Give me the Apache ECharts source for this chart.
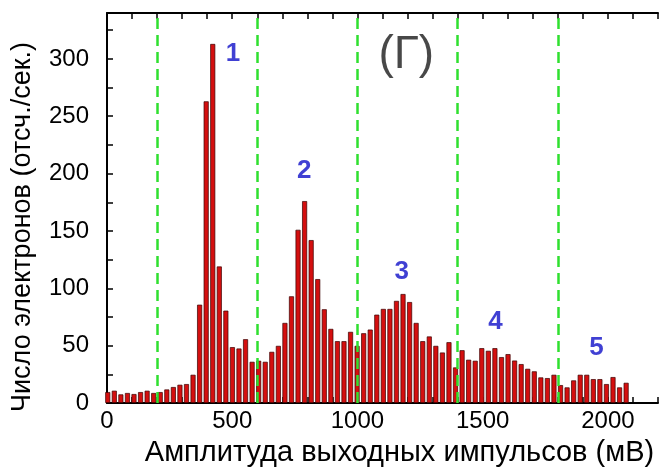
<!DOCTYPE html>
<html>
<head>
<meta charset="utf-8">
<script src="https://cdn.jsdelivr.net/npm/echarts@6/dist/echarts.min.js"></script>
<style>
  html, body { margin: 0; padding: 0; background: #fff; }
  #chart { width: 661px; height: 472px; }
</style>
</head>
<body>
<div id="chart"></div>
<script>
// Pulse-height histogram: counts per amplitude channel
const binWidth = 26.2;     // mV per channel
const firstBinCentre = 3;  // mV
const counts = [
  9.5, 10.7, 7.5, 8.7, 7.8, 9.5, 10.7, 8.7, 9.5, 11.8,
  13.9, 15.9, 16.5, 24.6, 85.7, 263, 313, 119, 80.5, 48.7,
  47.5, 55.6, 35.9, 36.8, 35.9, 44.6, 49.8, 69.8, 93, 151,
  176, 142, 108, 81.7, 64.6, 53.9, 53.9, 62, 49.8, 60.8,
  64, 77, 82, 82, 89, 95, 88, 69.8, 53.9, 58,
  49.8, 44, 53, 31, 46, 37.7, 36.8, 47.8, 45.5, 47.8,
  40, 42.6, 37, 33.9, 29.8, 27.6, 22.3, 21.7, 24.6, 15.6,
  13.6, 19.7, 24.6, 24.6, 20.8, 20.8, 16.5, 22.6, 13.6, 17.6
];

// Boundaries between peak regions (mV)
const regionBounds = [200, 600, 1000, 1400, 1800];

// Peak numbers and their anchor points [mV, counts]
const peakNames = ['1', '2', '3', '4', '5'];
const peakAnchors = [[503, 304], [787, 202], [1177, 114], [1551, 71], [1954, 48]];

// Panel letter
const panelName = '(Г)';
const panelAnchor = [1195, 303];

const xTickLabels = [0, 500, 1000, 1500, 2000];
const yTickLabels = [0, 50, 100, 150, 200, 250, 300];

const FONT = '"Liberation Sans", Arial, sans-serif';

const histData = counts.map((c, i) => [firstBinCentre + i * binWidth, c]);

const axisLine = { show: true, lineStyle: { color: '#000', width: 2 } };
const axisTick = { show: true, inside: true, length: 6, lineStyle: { color: '#000', width: 1.5 } };

const chart = echarts.init(document.getElementById('chart'), null, { renderer: 'canvas' });

chart.setOption({
  backgroundColor: '#fff',
  animation: false,
  grid: { left: 107, top: 13, width: 564, height: 391, containLabel: false },
  xAxis: [
    {
      type: 'value', min: 0, max: 2200, interval: 100, position: 'bottom',
      axisLine, axisTick,
      splitLine: { show: false },
      axisLabel: {
        color: '#000', fontSize: 24, fontFamily: FONT, margin: 6,
        formatter: v => xTickLabels.includes(v) ? String(v) : ''
      },
      name: 'Амплитуда выходных импульсов (мВ)',
      nameLocation: 'middle', nameGap: 35,
      nameTextStyle: { color: '#000', fontSize: 29, fontFamily: FONT, padding: [0, 0, 0, 34] }
    },
    {
      type: 'value', min: 0, max: 2200, interval: 100, position: 'top',
      axisLine, axisTick,
      splitLine: { show: false },
      axisLabel: { show: false }
    }
  ],
  yAxis: {
    type: 'value', min: 0, max: 340, interval: 25,
    axisLine, axisTick,
    splitLine: { show: false },
    axisLabel: {
      color: '#000', fontSize: 24, fontFamily: FONT, margin: 18,
      formatter: v => yTickLabels.includes(v) ? String(v) : ''
    },
    name: 'Число электронов (отсч./сек.)',
    nameLocation: 'middle', nameGap: 71,
    nameTextStyle: { color: '#000', fontSize: 27, fontFamily: FONT, padding: [0, 38, 0, 0] }
  },
  series: [
    {
      type: 'bar',
      xAxisIndex: 0,
      data: histData,
      barWidth: 5,
      itemStyle: { color: '#d40f0f', borderColor: '#3a0000', borderWidth: 0.7 },
      markLine: {
        silent: true,
        symbol: 'none',
        label: { show: false },
        lineStyle: { color: '#2fe02f', width: 2.5, type: [11, 6] },
        data: regionBounds.map(v => ({ xAxis: v }))
      },
      z: 2
    },
    {
      type: 'scatter',
      xAxisIndex: 0,
      symbolSize: 0,
      silent: true,
      data: peakAnchors.map((p, i) => ({ value: p, name: peakNames[i] })),
      label: {
        show: true, position: 'inside', formatter: p => p.name,
        color: '#1010c8', fontSize: 26, fontWeight: 'bold', fontFamily: FONT
      },
      z: 5
    },
    {
      type: 'scatter',
      xAxisIndex: 0,
      symbolSize: 0,
      silent: true,
      data: [{ value: panelAnchor, name: panelName }],
      label: {
        show: true, position: 'inside', formatter: p => p.name,
        color: '#1a1a1a', fontSize: 46, fontFamily: FONT
      },
      z: 5
    }
  ]
});
</script>
</body>
</html>
